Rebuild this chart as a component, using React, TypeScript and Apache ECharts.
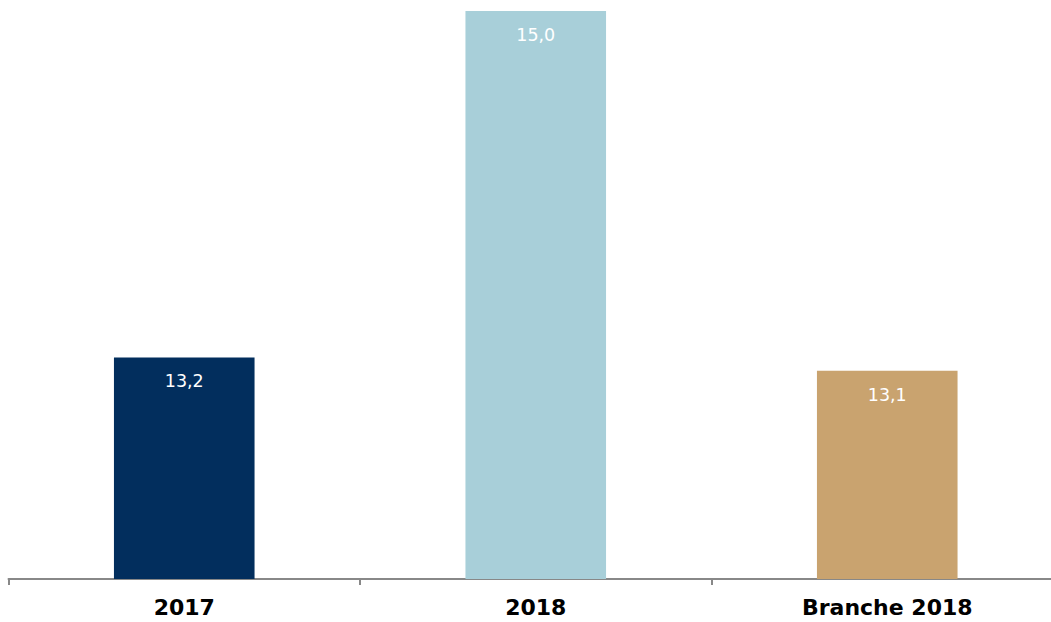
import React, { useEffect, useRef } from "react";
import * as echarts from "echarts";

const categories = ["2017", "2018", "Branche 2018"];
const values = [13.17, 15.0, 13.1];
const barColors = ["#022e5d", "#a8cfd9", "#c9a36f"];
const axisMin = 12;
const axisMax = 15;

export default function App() {
  const ref = useRef<HTMLDivElement>(null);
  useEffect(() => {
    if (!ref.current) return;
    const chart = echarts.init(ref.current, null, { renderer: "svg" });
    chart.setOption({
      animation: false,
      grid: { left: 8.5, right: 7, top: 11, bottom: 43, containLabel: false },
      xAxis: {
        type: "category",
        data: categories,
        axisLine: { show: true, lineStyle: { color: "#888888", width: 2 } },
        axisTick: { show: true, alignWithLabel: false, length: 6, lineStyle: { color: "#888888", width: 2 } },
        axisLabel: {
          color: "#000000",
          fontFamily: "DejaVu Sans",
          fontWeight: "bold",
          fontSize: 22,
          margin: 17,
        },
      },
      yAxis: {
        type: "value",
        min: axisMin,
        max: axisMax,
        show: false,
        splitLine: { show: false },
      },
      series: [
        {
          type: "bar",
          barWidth: "40%",
          data: values.map((v, i) => ({ value: v, itemStyle: { color: barColors[i] } })),
          label: {
            show: true,
            position: "insideTop",
            distance: 15,
            color: "#ffffff",
            fontFamily: "DejaVu Sans",
            fontSize: 17.5,
            formatter: (p: any) => p.value.toFixed(1).replace(".", ","),
          },
        },
      ],
    });
    return () => chart.dispose();
  }, []);
  return (
    <div style={{ position: "absolute", left: 0, top: 0, width: 1051, height: 622, overflow: "hidden", background: "#ffffff" }}>
      <div ref={ref} style={{ position: "absolute", left: 0, top: 0, width: 1070, height: 622 }} />
    </div>
  );
}
